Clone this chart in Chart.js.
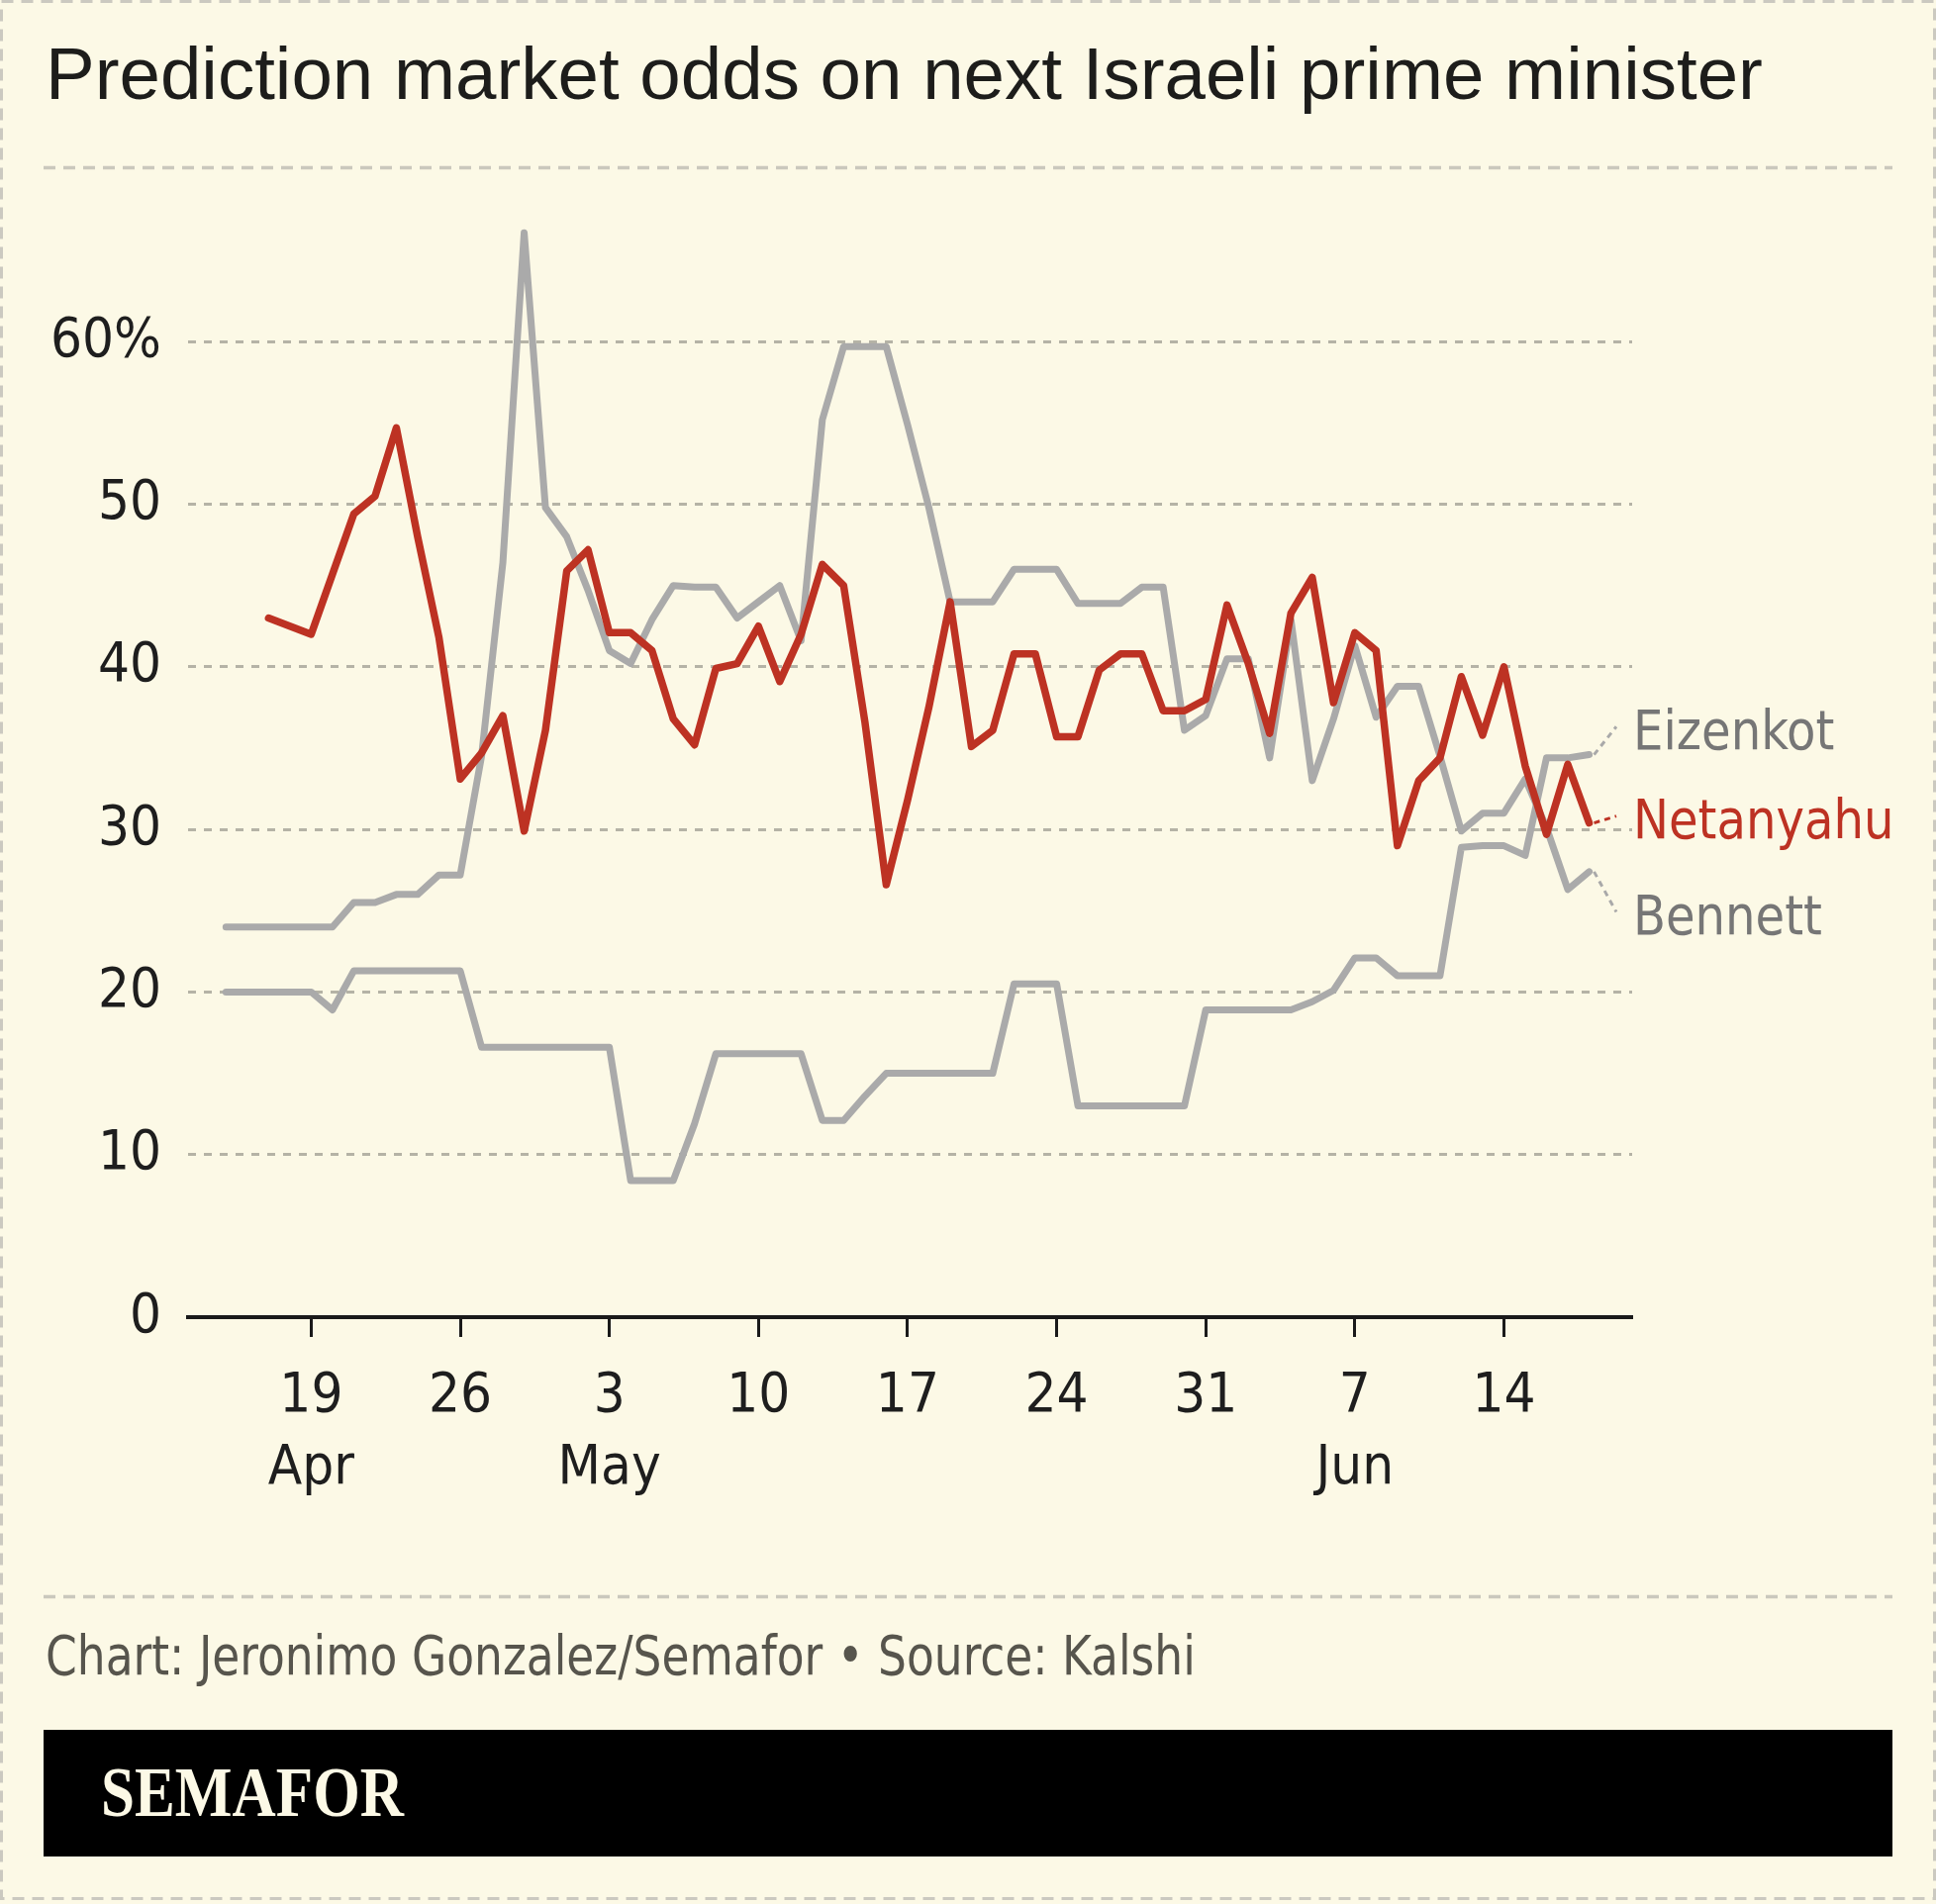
<!DOCTYPE html>
<html><head><meta charset="utf-8">
<script src="https://cdn.jsdelivr.net/npm/chart.js@4.4.1/dist/chart.umd.min.js"></script>
<style>
html,body{margin:0;padding:0;background:#fcf9e6;}
#page{position:relative;width:1956px;height:1924px;background:#fcf9e6;overflow:hidden;}
#deco{position:absolute;left:0;top:0;}
#title{position:absolute;left:46px;top:38px;font-family:"Liberation Sans",Arial,sans-serif;font-size:74.5px;line-height:1;color:#1d1d1b;white-space:nowrap;}
#credit{position:absolute;left:46px;top:1646px;font-family:"DejaVu Sans Condensed","DejaVu Sans",sans-serif;font-size:55px;line-height:1;color:#57554d;white-space:nowrap;transform-origin:0 0;transform:scaleX(0.92);}
#banner{position:absolute;left:44px;top:1748px;width:1868px;height:128px;background:#000;}
#logo{position:absolute;left:102px;top:1775px;font-family:"Liberation Serif","Times New Roman",serif;font-weight:bold;font-size:72px;line-height:1;color:#fcf9e6;white-space:nowrap;transform-origin:0 0;transform:scaleX(0.85);}
#chartbox{position:absolute;left:0;top:170px;width:1956px;height:1400px;}
</style></head>
<body>
<div id="page">
<svg id="deco" width="1956" height="1924">
  <rect x="1.5" y="1.5" width="1953" height="1917" fill="none" stroke="#cbc9c0" stroke-width="3" stroke-dasharray="12 8"/>
  <line x1="44" y1="169.5" x2="1912" y2="169.5" stroke="#cac8bd" stroke-width="3.3" stroke-dasharray="12 8"/>
  <line x1="44" y1="1613.5" x2="1912" y2="1613.5" stroke="#cac8bd" stroke-width="3.3" stroke-dasharray="12 8"/>
</svg>
<div id="title">Prediction market odds on next Israeli prime minister</div>
<div id="chartbox"><canvas id="c" width="1956" height="1400"></canvas></div>
<div id="credit">Chart: Jeronimo Gonzalez/Semafor • Source: Kalshi</div>
<div id="banner"></div>
<div id="logo">SEMAFOR</div>
</div>
<script>
// Day numbers: Apr 1 = 1, May 1 = 31, Jun 1 = 62
const dayNumbers = [15,16,17,18,19,20,21,22,23,24,25,26,27,28,29,30,31,32,33,34,35,36,37,38,39,40,
  41,42,43,44,45,46,47,48,49,50,51,52,53,54,55,56,57,58,59,60,61,62,63,64,65,66,67,68,69,70,
  71,72,73,74,75,76,77,78,79];
const netanyahu = [null,null,43.0,42.5,42.0,45.7,49.4,50.5,54.7,48.0,41.8,33.1,34.7,37.0,29.9,36.1,
  45.9,47.2,42.1,42.1,41.0,36.8,35.2,39.9,40.2,42.5,39.1,42.0,46.3,45.0,36.6,26.6,31.8,37.5,44.0,
  35.1,36.1,40.8,40.8,35.7,35.7,39.8,40.8,40.8,37.3,37.3,38.0,43.8,40.2,35.9,43.3,45.5,37.8,42.1,
  41.0,29.0,33.0,34.4,39.4,35.8,40.0,33.9,29.7,34.0,30.4];
const bennett = [24.0,24.0,24.0,24.0,24.0,24.0,25.5,25.5,26.0,26.0,27.2,27.2,34.5,46.4,66.7,49.8,
  48.0,44.7,41.0,40.2,42.9,45.0,44.9,44.9,43.0,44.0,45.0,41.6,55.2,59.7,59.7,59.7,54.9,49.8,44.0,
  44.0,44.0,46.0,46.0,46.0,43.9,43.9,43.9,44.9,44.9,36.1,37.0,40.5,40.5,34.4,42.9,33.0,36.8,41.3,
  36.9,38.8,38.8,34.5,29.9,31.0,31.0,33.1,30.1,26.3,27.4];
const eizenkot = [20.0,20.0,20.0,20.0,20.0,18.9,21.3,21.3,21.3,21.3,21.3,21.3,16.6,16.6,16.6,16.6,
  16.6,16.6,16.6,8.4,8.4,8.4,11.9,16.2,16.2,16.2,16.2,16.2,12.1,12.1,13.6,15.0,15.0,15.0,15.0,
  15.0,15.0,20.5,20.5,20.5,13.0,13.0,13.0,13.0,13.0,13.0,18.9,18.9,18.9,18.9,18.9,19.4,20.1,22.1,
  22.1,21.0,21.0,21.0,28.9,29.0,29.0,28.4,34.4,34.4,34.6];
const yTickValues = [0,10,20,30,40,50,60];
const yTickLabels = ['0','10','20','30','40','50','60%'];
const xTickDays = [19,26,33,40,47,54,61,68,75];
const xTickLabels = [['19','Apr'],'26',['3','May'],'10','17','24','31',['7','Jun'],'14'];
const seriesNames = ['Netanyahu','Eizenkot','Bennett'];
const labelValues = [30.7,36.2,24.8];

const RED = '#bd3223', GRAY = '#aaaaaa', LABELGRAY = '#767676', INK = '#1e1e1e';
const FONT = "'DejaVu Sans Condensed','DejaVu Sans',sans-serif";

function pts(arr){ return dayNumbers.map((d,i)=>({x:d,y:arr[i]})).filter(p=>p.y!==null); }

const endLabels = {
  id:'endLabels',
  afterDatasetsDraw(chart){
    const ctx = chart.ctx, y = chart.scales.y;
    chart.data.datasets.forEach((ds,i)=>{
      const meta = chart.getDatasetMeta(i);
      const last = meta.data[meta.data.length-1];
      const ly = y.getPixelForValue(labelValues[i]);
      const lx = chart.chartArea.right + 1;
      const isRed = i===0;
      ctx.save();
      ctx.strokeStyle = isRed ? RED : '#a9a9a9';
      ctx.lineWidth = 3;
      ctx.setLineDash([6,5]);
      ctx.beginPath();
      ctx.moveTo(last.x + 5, last.y);
      ctx.lineTo(lx - 17, ly - 2);
      ctx.stroke();
      ctx.setLineDash([]);
      ctx.translate(lx, ly + 0.3645*56);
      ctx.scale(0.955, 1);
      ctx.font = '56px ' + FONT;
      ctx.fillStyle = isRed ? RED : LABELGRAY;
      ctx.textAlign = 'left';
      ctx.textBaseline = 'alphabetic';
      ctx.fillText(seriesNames[i], 0, 0);
      ctx.restore();
    });
  }
};

new Chart(document.getElementById('c'), {
  type:'line',
  data:{datasets:[
    {label:seriesNames[0], data:pts(netanyahu), borderColor:RED, borderWidth:7.5},
    {label:seriesNames[1], data:pts(eizenkot), borderColor:GRAY, borderWidth:7},
    {label:seriesNames[2], data:pts(bennett), borderColor:GRAY, borderWidth:7}
  ]},
  options:{
    responsive:false, animation:false, devicePixelRatio:1, events:[],
    layout:{padding:{top:11,right:307,left:0,bottom:0}},
    elements:{point:{radius:0,hoverRadius:0}, line:{tension:0,borderJoinStyle:'round',borderCapStyle:'round',fill:false}},
    plugins:{legend:{display:false}, tooltip:{enabled:false}},
    scales:{
      x:{type:'linear', min:13.22, max:81.02,
        afterBuildTicks:(s)=>{ s.ticks = xTickDays.map(v=>({value:v})); },
        afterFit:(s)=>{ s.height = 239; s.paddingLeft = 0; s.paddingRight = 0; },
        border:{display:true, color:'#1a1a1a', width:4},
        grid:{display:true, drawOnChartArea:false, drawTicks:true, tickLength:20, tickWidth:3, tickColor:'#1a1a1a', color:'#1a1a1a'},
        ticks:{autoSkip:false, maxRotation:0, padding:24.5, color:INK, font:{family:FONT, size:56, lineHeight:1.3},
          callback:(v,i)=>xTickLabels[i]}
      },
      y:{type:'linear', min:0, max:70,
        afterBuildTicks:(s)=>{ s.ticks = yTickValues.map(v=>({value:v})); },
        afterFit:(s)=>{ s.width = 190; s.paddingTop = 0; s.paddingBottom = 0; },
        border:{display:false, dash:[8,8]},
        grid:{drawTicks:false, lineWidth:3, color:(c)=> (c.tick && c.tick.value===0) ? 'rgba(0,0,0,0)' : '#b5b3a6'},
        ticks:{padding:27, color:INK, font:{family:FONT, size:56}, callback:(v,i)=>yTickLabels[i]}
      }
    }
  },
  plugins:[endLabels]
});
</script>
</body></html>
